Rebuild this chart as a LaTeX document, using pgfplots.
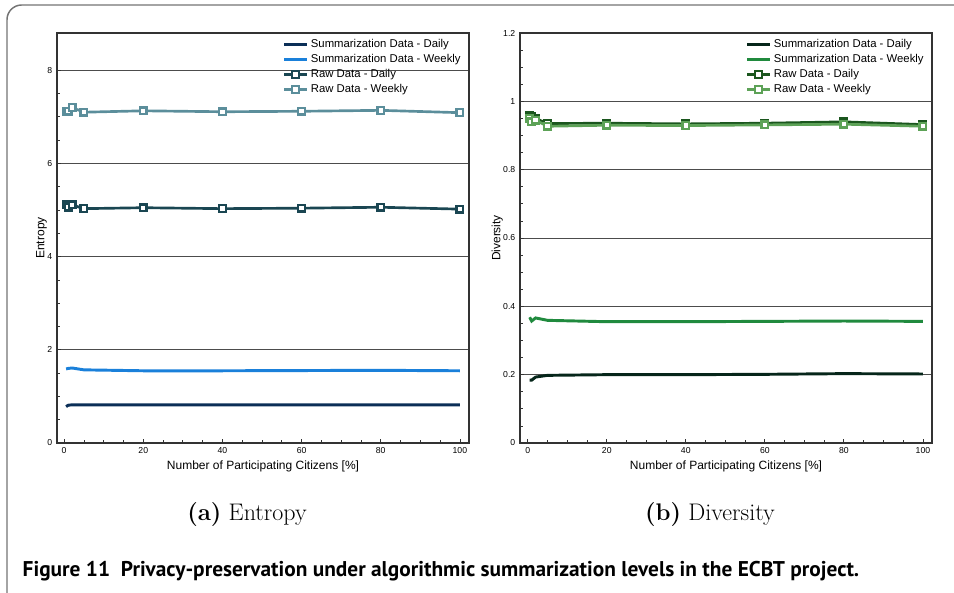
\documentclass[border=0pt]{standalone}
\usepackage{pgfplots}
\pgfplotsset{compat=1.18}
\usepackage{fontspec}
\newfontfamily\arial{Liberation Sans}
\newfontfamily\capfont{PT Sans}
\definecolor{ldaily}{HTML}{0B2F57}
\definecolor{lweekly}{HTML}{1A80DA}
\definecolor{lrawd}{HTML}{1A4652}
\definecolor{lraww}{HTML}{5B8E9B}
\definecolor{rdaily}{HTML}{06261A}
\definecolor{rweekly}{HTML}{208A3E}
\definecolor{rrawd}{HTML}{1B561E}
\definecolor{rraww}{HTML}{5DA257}
\pgfplotsset{
  common/.style={
    scale only axis, width=309pt, height=307.5pt,
    axis line style={black!80, line width=1pt},
    font=\arial\fontsize{6.5}{7.5}\selectfont,
    /pgf/number format/assume math mode=true,
    ymajorgrids, grid style={black!70, line width=0.6pt},
    tick align=inside, tick pos=left,
    major tick length=3pt, minor tick length=2pt,
    tick style={black!80, line width=0.6pt},
    xtick={0,20,...,100}, minor x tick num=3, minor y tick num=3,
    xlabel={Number of Participating Citizens [\%]},
    label style={font=\arial\fontsize{9}{10}\selectfont},
    xlabel style={yshift=2pt}, ylabel style={yshift=-6.5pt},
    legend style={draw=none, fill=none, at={(0.99,0.995)}, anchor=north east,
      font=\arial\fontsize{8.5}{9}\selectfont, row sep=-0.4pt, inner sep=1pt},
    legend cell align=left,
  },
  summ/.style={line width=2.2pt, no markers},
  raw/.style={line width=2pt, mark=square*, mark size=2.5pt,
    mark options={fill=white, line width=1.7pt}},
}
\begin{document}
\begin{tikzpicture}[x=0.75pt,y=0.75pt]
\useasboundingbox (0,0) rectangle (954,593);
\draw[black!55, line width=1.1pt, rounded corners=11pt] (7,-2) -- (7,588) -- (970,588);
\begin{axis}[common, at={(42.75pt,112.5pt)}, anchor=south west,
  xmin=-1.8, xmax=102.3, ymin=0, ymax=8.8, ytick={0,2,4,6,8},
  ylabel={Entropy}]
\addplot[summ, ldaily] coordinates {(0.5,0.78) (1,0.81) (2,0.82) (5,0.82) (20,0.82) (40,0.82) (60,0.82) (80,0.82) (100,0.82)};
\addlegendentry{Summarization Data - Daily}
\addplot[summ, lweekly] coordinates {(0.5,1.59) (1,1.60) (2,1.61) (5,1.57) (20,1.55) (40,1.55) (60,1.555) (80,1.56) (100,1.55)};
\addlegendentry{Summarization Data - Weekly}
\addplot[raw, lrawd] coordinates {(0.5,5.11) (1,5.06) (2,5.11) (5,5.03) (20,5.05) (40,5.03) (60,5.04) (80,5.06) (100,5.02)};
\addlegendentry{Raw Data - Daily}
\addplot[raw, lraww] coordinates {(0.5,7.11) (1,7.12) (2,7.20) (5,7.10) (20,7.13) (40,7.11) (60,7.12) (80,7.14) (100,7.09)};
\addlegendentry{Raw Data - Weekly}
\end{axis}
\begin{axis}[common, at={(390pt,112.5pt)}, anchor=south west,
  xmin=-1.95, xmax=102.3, ymin=0, ymax=1.2, ytick={0,0.2,...,1.2},
  ylabel={Diversity}]
\addplot[summ, rdaily] coordinates {(0.5,0.184) (1,0.184) (2,0.193) (5,0.198) (20,0.200) (40,0.200) (60,0.201) (80,0.203) (100,0.202)};
\addlegendentry{Summarization Data - Daily}
\addplot[summ, rweekly] coordinates {(0.5,0.368) (1,0.357) (2,0.366) (5,0.359) (20,0.355) (40,0.355) (60,0.356) (80,0.357) (100,0.356)};
\addlegendentry{Summarization Data - Weekly}
\addplot[raw, rrawd] coordinates {(0.5,0.960) (1,0.955) (2,0.950) (5,0.935) (20,0.936) (40,0.934) (60,0.936) (80,0.940) (100,0.932)};
\addlegendentry{Raw Data - Daily}
\addplot[raw, rraww] coordinates {(0.5,0.950) (1,0.940) (2,0.945) (5,0.927) (20,0.930) (40,0.929) (60,0.931) (80,0.933) (100,0.927)};
\addlegendentry{Raw Data - Weekly}
\end{axis}
\node[font=\fontsize{18}{20}\selectfont] at (247,78) {\textbf{(a)}\ Entropy};
\node[font=\fontsize{18}{20}\selectfont] at (710,78) {\textbf{(b)}\ Diversity};
\node[anchor=west, font=\capfont\bfseries\fontsize{16}{18}\selectfont] at (18,22) {Figure 11\ \ Privacy-preservation under algorithmic summarization levels in the ECBT project.};
\end{tikzpicture}
\end{document}
